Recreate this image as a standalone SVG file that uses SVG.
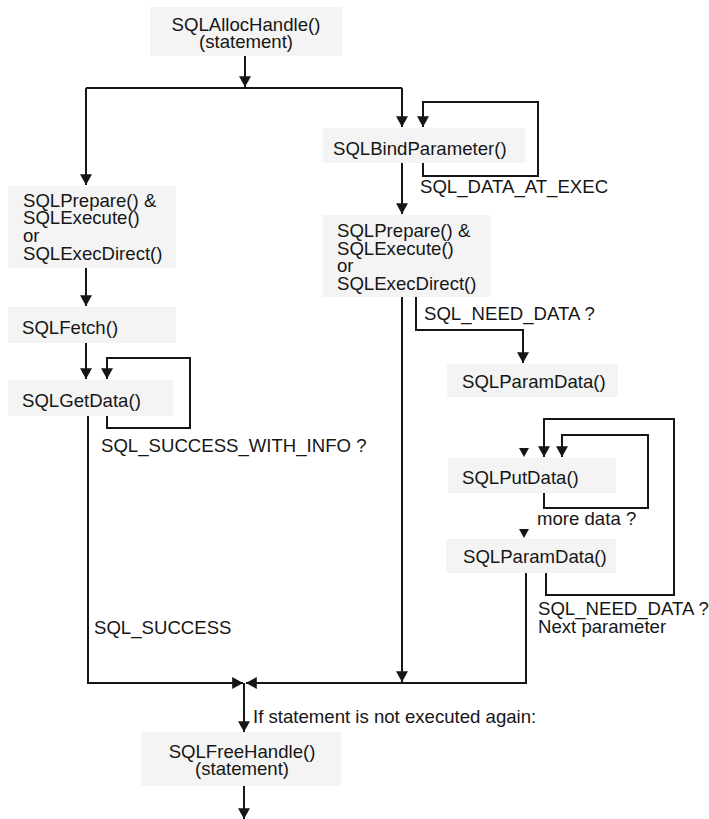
<svg xmlns="http://www.w3.org/2000/svg" width="709" height="819" viewBox="0 0 709 819">
<style>
.box{fill:#f4f4f4;stroke:none}
.t{font-family:"Liberation Sans",Arial,sans-serif;font-size:18.6px;fill:#161616}
.c{text-anchor:middle}
.ln{fill:none;stroke:#161616;stroke-width:2}
.ah{fill:#161616}
</style>
<defs>
<marker id="arr" markerUnits="userSpaceOnUse" markerWidth="12" markerHeight="12" refX="9" refY="5" orient="auto" viewBox="0 0 10 10">
<path d="M0,0 L9,5 L0,10 z" fill="#161616"/>
</marker>
</defs>
<rect width="709" height="819" fill="#ffffff"/>

<g id="connectors">
<path class="ln" d="M245,56 V87" marker-end="url(#arr)"/>
<path class="ln" d="M86,88 H402"/>
<path class="ln" d="M86,88 V185" marker-end="url(#arr)"/>
<path class="ln" d="M402,88 V127" marker-end="url(#arr)"/>
<path class="ln" d="M423,163 V176 H538 V102 H423 V127" marker-end="url(#arr)"/>
<path class="ln" d="M402,163 V214" marker-end="url(#arr)"/>
<path class="ln" d="M86,268 V306" marker-end="url(#arr)"/>
<path class="ln" d="M86,343 V379" marker-end="url(#arr)"/>
<path class="ln" d="M107,416 V428 H190 V358 H107 V379" marker-end="url(#arr)"/>
<path class="ln" d="M416,297 V330 H523 V363" marker-end="url(#arr)"/>
<path class="ln" d="M402,297 V682" marker-end="url(#arr)"/>
<polygon class="ah" points="519,448 529,448 524,457"/>
<path class="ln" d="M546,573 V595 H674 V419 H544 V457" marker-end="url(#arr)"/>
<path class="ln" d="M544,493 V508 H648 V435 H562 V457" marker-end="url(#arr)"/>
<polygon class="ah" points="519,529 529,529 524,538"/>
<path class="ln" d="M526,573 V683 H246" marker-end="url(#arr)"/>
<path class="ln" d="M88,416 V683 H243" marker-end="url(#arr)"/>
<path class="ln" d="M244,683 V732" marker-end="url(#arr)"/>
<path class="ln" d="M244,786 V819" marker-end="url(#arr)"/>
<text class="t" x="420" y="193">SQL_DATA_AT_EXEC</text>
<text class="t" x="424" y="320">SQL_NEED_DATA ?</text>
<text class="t" x="101" y="452">SQL_SUCCESS_WITH_INFO ?</text>
<text class="t" x="537" y="525">more data ?</text>
<text class="t" x="538" y="615">SQL_NEED_DATA ?</text>
<text class="t" x="538" y="633">Next parameter</text>
<text class="t" x="94" y="634">SQL_SUCCESS</text>
<text class="t" x="253" y="723">If statement is not executed again:</text>
</g>

<g id="alloc">
<rect class="box" x="150" y="7" width="192" height="49"/>
<text class="t c" x="246" y="31">SQLAllocHandle()</text>
<text class="t c" x="246" y="48">(statement)</text>
</g>

<g id="prepare-left">
<rect class="box" x="8" y="186" width="168" height="82"/>
<text class="t" x="23" y="207">SQLPrepare() &amp;</text>
<text class="t" x="23" y="224">SQLExecute()</text>
<text class="t" x="23" y="242">or</text>
<text class="t" x="23" y="260">SQLExecDirect()</text>
</g>

<g id="fetch">
<rect class="box" x="8" y="307" width="168" height="36"/>
<text class="t" x="22" y="334">SQLFetch()</text>
</g>

<g id="getdata">
<rect class="box" x="8" y="380" width="165" height="36"/>
<text class="t" x="22" y="407">SQLGetData()</text>
</g>

<g id="bindparam">
<rect class="box" x="323" y="128" width="202" height="35"/>
<text class="t" x="333" y="155">SQLBindParameter()</text>
</g>

<g id="prepare-right">
<rect class="box" x="323" y="215" width="168" height="82"/>
<text class="t" x="337" y="237">SQLPrepare() &amp;</text>
<text class="t" x="337" y="255">SQLExecute()</text>
<text class="t" x="337" y="272">or</text>
<text class="t" x="337" y="290">SQLExecDirect()</text>
</g>

<g id="paramdata1">
<rect class="box" x="447" y="364" width="171" height="33"/>
<text class="t" x="462" y="388">SQLParamData()</text>
</g>

<g id="putdata">
<rect class="box" x="448" y="458" width="168" height="35"/>
<text class="t" x="462" y="484">SQLPutData()</text>
</g>

<g id="paramdata2">
<rect class="box" x="446" y="539" width="170" height="34"/>
<text class="t" x="463" y="563">SQLParamData()</text>
</g>

<g id="freehandle">
<rect class="box" x="141" y="732" width="200" height="54"/>
<text class="t c" x="242" y="758">SQLFreeHandle()</text>
<text class="t c" x="242" y="775">(statement)</text>
</g>
</svg>
